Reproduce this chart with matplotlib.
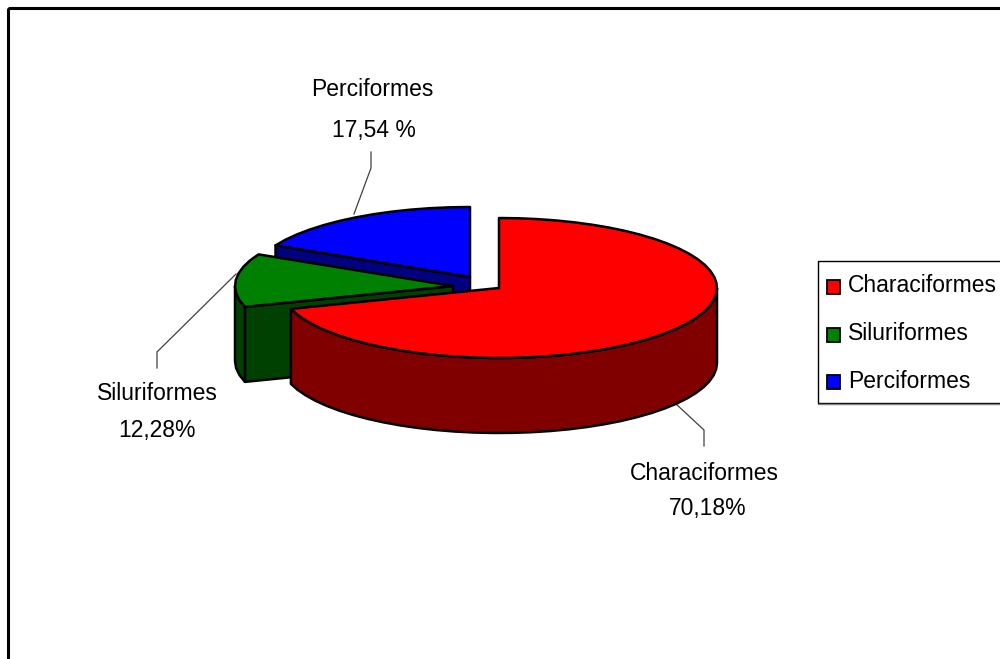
import numpy as np
import matplotlib
matplotlib.use("Agg")
import matplotlib.pyplot as plt
from matplotlib.patches import Polygon, Rectangle

categories = ["Characiformes", "Siluriformes", "Perciformes"]
values = [70.18, 12.28, 17.54]
value_labels = ["70,18%", "12,28%", "17,54 %"]
top_colors = ["#FF0000", "#008000", "#0000FF"]
side_colors = ["#800000", "#004000", "#000080"]

plt.rcParams["font.family"] = ["Liberation Sans", "DejaVu Sans"]
FS = 16.5

RX, RY, DEPTH = 218, 70, 75
apexes = [(499, 288), (453, 286), (470, 277)]
name_pos = [(704, 473), (157, 394), (372, 90)]
val_pos = [(708, 508), (157, 431), (374, 131)]
leaders = [[(676, 404), (704, 430), (704, 446)],
           [(236, 274), (157, 352), (157, 368)],
           [(354, 214), (371, 168), (371, 152)]]
legend_y = [286, 334, 381]
legend_text_y = [286, 334, 382]

fig = plt.figure(figsize=(10, 6.59), dpi=100)
ax = fig.add_axes([0, 0, 1, 1])
ax.set_xlim(0, 1000)
ax.set_ylim(659, 0)
ax.axis("off")


def pt(c, a):
    """Point on the rim at clockwise angle a (deg from top)."""
    r = np.radians(a)
    return np.array([c[0] + RX * np.sin(r), c[1] - RY * np.cos(r)])


def arc(c, a0, a1, step=5.0):
    n = max(2, int(abs(a1 - a0) / step) + 1)
    return np.array([pt(c, a) for a in np.linspace(a0, a1, n)])


def draw_slice(c, a0, a1, top, side, z):
    kw = dict(edgecolor="black", linewidth=1.8, joinstyle="round", zorder=z)
    down = np.array([0, DEPTH])
    # cut face at the start angle, visible on the left half of the pie
    if a0 > 180:
        p = pt(c, a0)
        ax.add_patch(Polygon([c, p, p + down, np.array(c) + down], facecolor=side, **kw))
    # outer wall, only where the rim faces the viewer
    lo, hi = max(a0, 90), min(a1, 270)
    if lo < hi:
        rim = arc(c, lo, hi)
        ax.add_patch(Polygon(np.vstack([rim, rim[::-1] + down]), facecolor=side, **kw))
    # top face
    ax.add_patch(Polygon(np.vstack([[c], arc(c, a0, a1)]), facecolor=top, **kw))


edges = np.concatenate([[0], np.cumsum(values)]) / np.sum(values) * 360
for i in [2, 1, 0]:
    draw_slice(apexes[i], edges[i], edges[i + 1], top_colors[i], side_colors[i], 3 - i + 2)

for name, val, np_, vp, lead in zip(categories, value_labels, name_pos, val_pos, leaders):
    xs, ys = zip(*lead)
    ax.plot(xs, ys, color="#404040", lw=0.9, zorder=2)
    ax.text(np_[0], np_[1], name, ha="center", va="center", fontsize=FS, color="black")
    ax.text(vp[0], vp[1], val, ha="center", va="center", fontsize=FS, color="black")

# outer frame, open past the picture edge
ax.add_patch(Rectangle((8, 8), 1100, 800, fill=False, edgecolor="black", linewidth=2.2, zorder=1))

# legend
ax.add_patch(Rectangle((818, 261), 300, 142, facecolor="white", edgecolor="black", linewidth=1, zorder=6))
ax.plot([818, 1000], [404, 404], color="#808080", lw=1, zorder=6)
for name, col, y, ty in zip(categories, top_colors, legend_y, legend_text_y):
    ax.add_patch(Rectangle((827, y - 6), 13, 14, facecolor=col, edgecolor="black", linewidth=1.3, zorder=7))
    ax.text(848, ty, name, ha="left", va="center", fontsize=FS, color="black", zorder=7)

fig.savefig("out.png", dpi=100)
